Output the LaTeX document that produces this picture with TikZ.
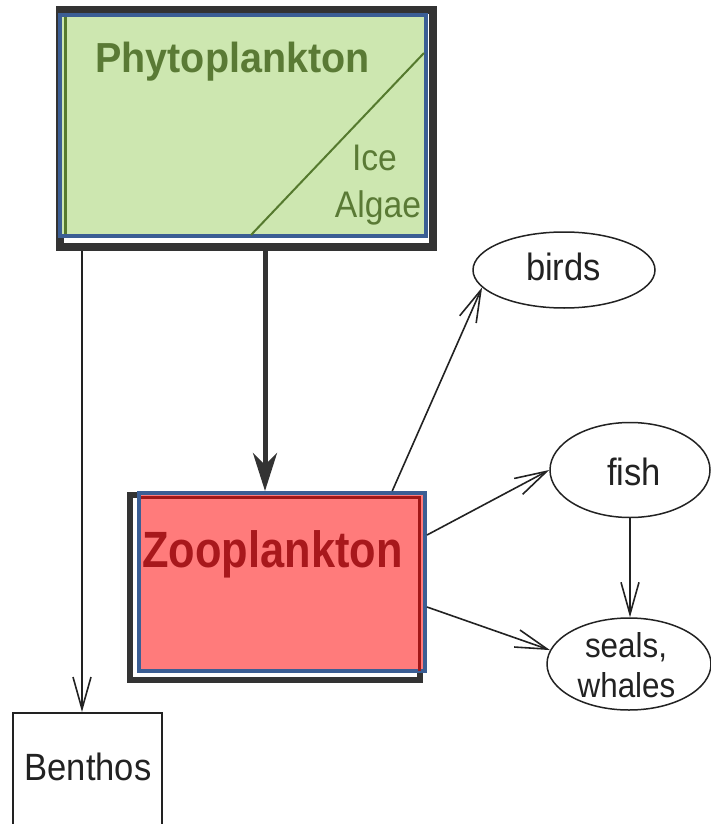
\documentclass[tikz,border=0pt]{standalone}
\usepackage{fontspec}
\setmainfont{Liberation Sans}
\newfontfamily\condfont[FakeStretch=0.91]{Liberation Sans}
\newfontfamily\phyfont[FakeStretch=0.94]{Liberation Sans}
\newfontfamily\zoofont[FakeStretch=0.85]{Liberation Sans}
\usetikzlibrary{arrows.meta,shapes.geometric,calc}
\definecolor{darkframe}{HTML}{333333}
\definecolor{phyfill}{HTML}{CDE7B0}
\definecolor{boxblue}{HTML}{3B5E94}
\definecolor{phytext}{HTML}{5A7A35}
\definecolor{phyline}{HTML}{557A2E}
\definecolor{zoofill}{HTML}{FF7B7B}
\definecolor{zootext}{HTML}{A8181C}
\definecolor{zooline}{HTML}{A01818}
\definecolor{inktext}{HTML}{222222}
\begin{document}
\begin{tikzpicture}[x=1pt,y=-1pt,
  shadowframe/.style={draw=darkframe, fill=white, inner sep=0pt, rectangle},
  colourbox/.style={draw=boxblue, line width=4pt, inner sep=0pt, rectangle},
  whitebox/.style={draw=inktext, line width=2pt, inner sep=0pt, rectangle},
  animal/.style={draw=inktext, line width=1.5pt, ellipse, inner sep=0pt},
  inktxt/.style={text=inktext, inner sep=0pt, font=\condfont\fontsize{38}{44}\selectfont},
  thinarrow/.style={draw=inktext, line width=1.6pt, -{Straight Barb[length=32pt,width=18pt]}},
  thickarrow/.style={draw=darkframe, line width=5pt, -{Stealth[length=38pt,width=24pt,inset=12pt]}}
]
\useasboundingbox (0,0) rectangle (711,824);

% Phytoplankton
\node[shadowframe, line width=8pt, minimum width=373pt, minimum height=237pt] (phyto) at (246.5,128.5) {};
\node[colourbox, fill=phyfill, minimum width=366pt, minimum height=221pt] (phytoin) at (243,125.5) {};
\draw[phyline, line width=3pt] (65,17) -- (65,234);
\draw[phyline, line width=2pt] (251,235) -- (424,53);
\node[anchor=base, inner sep=0pt, text=phytext, font=\phyfont\bfseries\fontsize{42}{48}\selectfont] (phytolabel) at (232.5,73) {Phytoplankton};
\node[anchor=base, inner sep=0pt, text=phytext, font=\condfont\fontsize{37}{44}\selectfont] (ice) at (374.5,170) {Ice};
\node[anchor=base, inner sep=0pt, text=phytext, font=\condfont\fontsize{37}{44}\selectfont] (algae) at (378,217) {Algae};

% Zooplankton
\node[shadowframe, line width=6pt, minimum width=290pt, minimum height=185pt] (zooframe) at (275,587.5) {};
\node[colourbox, fill=zoofill, minimum width=286pt, minimum height=178pt] (zoo) at (282,582) {};
\draw[zooline, line width=3pt] (141,497.5) -- (419,497.5) -- (419,671);
\node[anchor=base, inner sep=0pt, text=zootext, font=\zoofont\bfseries\fontsize{51}{56}\selectfont] (zoolabel) at (272.5,567) {Zooplankton};

% Benthos
\node[whitebox, minimum width=149pt, minimum height=140pt] (benthbox) at (87.5,783) {};
\node[inktxt, anchor=base] (benth) at (88,780) {Benthos};

% Animals
\node[animal, minimum width=182pt, minimum height=76pt] (birds) at (564,270) {};
\node[inktxt, anchor=base] (birdstext) at (563.5,280) {birds};
\node[animal, minimum width=160pt, minimum height=95pt] (fish) at (630,470) {};
\node[inktxt, anchor=base] (fishtext) at (634,485) {fish};
\node[animal, minimum width=164pt, minimum height=92pt] (seals) at (629,664) {};
\node[inktxt, anchor=base, font=\condfont\fontsize{34.5}{40}\selectfont] (sealstext) at (626,657) {seals,};
\node[inktxt, anchor=base, font=\condfont\fontsize{34.5}{40}\selectfont] (whalestext) at (626.5,697) {whales};

% Connectors
\draw[thickarrow] ([xshift=18.5pt]phyto.south) -- ([xshift=18.5pt]phyto.south |- zoo.north);
\coordinate (bentharrow) at ([xshift=-5.5pt]benthbox.north);
\draw[thinarrow] (phyto.south -| bentharrow) -- (bentharrow);
\draw[thinarrow] ([xshift=-34.75pt]zoo.north east) -- (birds.192);
\draw[thinarrow] ([yshift=47pt]zoo.east) -- (fish.west);
\draw[thinarrow] ([yshift=-25pt]zoo.east) -- (seals.170);
\draw[thinarrow] (fish.south) -- (fish.south |- seals.north);
\end{tikzpicture}
\end{document}
